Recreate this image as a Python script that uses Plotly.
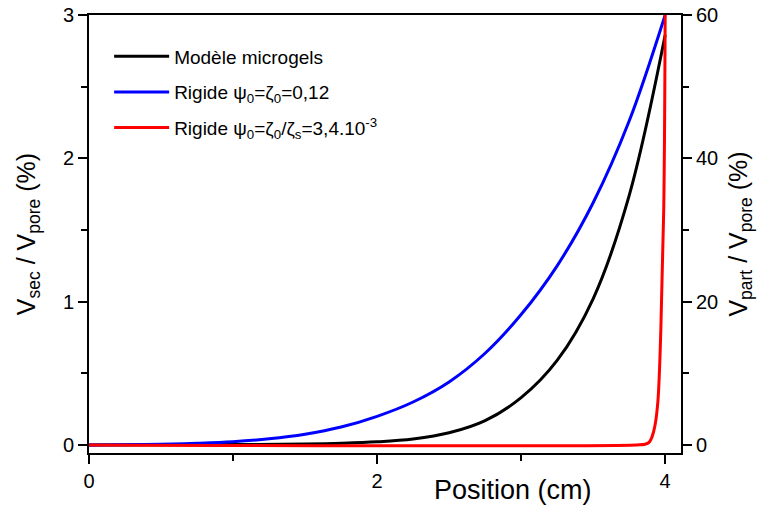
import plotly.graph_objects as go

# valeurs
x_micro = [0, 0.5, 1.0, 1.5, 1.75, 2.0, 2.25, 2.5, 2.75, 3.0, 3.25, 3.5, 3.75, 4.0]
y_micro = [0, 0.001, 0.003, 0.007, 0.012, 0.022, 0.042, 0.085, 0.17, 0.33, 0.59, 1.02, 1.74, 2.86]

x_rig1 = [0, 0.25, 0.5, 0.75, 1.0, 1.25, 1.5, 1.75, 2.0, 2.25, 2.5, 2.75, 3.0, 3.25, 3.5, 3.75, 4.0]
y_rig1 = [0, 0.002, 0.005, 0.012, 0.023, 0.043, 0.075, 0.125, 0.20, 0.30, 0.44, 0.64, 0.91, 1.25, 1.69, 2.26, 3.0]

x_rig2 = [0, 3.80, 3.86, 3.89, 3.91, 3.93, 3.95, 3.97, 3.99, 4.0]
y_rig2 = [0, 0, 0.005, 0.02, 0.06, 0.14, 0.31, 0.8, 1.64, 3.0]

names = ["Modèle microgels",
         "Rigide ψ<sub>0</sub>=ζ<sub>0</sub>=0,12",
         "Rigide ψ<sub>0</sub>=ζ<sub>0</sub>/ζ<sub>s</sub>=3,4.10<sup>-3</sup>"]
colors = ["black", "#0000ff", "#ff0000"]

FONT = "Arial, Liberation Sans, sans-serif"

fig = go.Figure()
for i, (xs, ys, nm, c) in enumerate(zip([x_micro, x_rig1, x_rig2], [y_micro, y_rig1, y_rig2], names, colors)):
    fig.add_trace(go.Scatter(x=xs, y=ys, mode="lines", name=nm, legendgroup=str(i),
                             line=dict(color=c, width=3, shape="spline", smoothing=1.0)))

# trace invisible pour activer l'axe de droite
fig.add_trace(go.Scatter(x=[0], y=[0], yaxis="y2", mode="markers",
                         marker=dict(opacity=0), showlegend=False, hoverinfo="skip"))

tick_common = dict(ticks="outside", ticklen=9, tickwidth=1.5, tickcolor="black",
                   showgrid=False, zeroline=False, showline=True, linecolor="black",
                   linewidth=2, automargin=False, ticklabeloverflow="allow",
                   tickfont=dict(size=20))

fig.update_layout(
    width=764, height=509,
    margin=dict(l=89, r=83, t=15, b=56),
    plot_bgcolor="white", paper_bgcolor="white",
    font=dict(family=FONT, size=19, color="black"),
    showlegend=True,
    legend=dict(x=0.034, y=0.949, xanchor="left", yanchor="top", itemwidth=55,
                bgcolor="rgba(0,0,0,0)", font=dict(size=19), tracegroupgap=8),
    xaxis=dict(range=[0, 4.11], dtick=2, tick0=0, mirror=True,
               minor=dict(dtick=1, ticks="outside", ticklen=6, tickwidth=1.5, tickcolor="black"),
               **tick_common),
    yaxis=dict(range=[-0.056, 3], dtick=1,
               minor=dict(dtick=0.5, ticks="outside", ticklen=6, tickwidth=1.5, tickcolor="black"),
               title=dict(text="V<sub>sec</sub> / V<sub>pore</sub> (%)", font=dict(size=25), standoff=20),
               **tick_common),
    yaxis2=dict(range=[-1.12, 60], dtick=20, overlaying="y", side="right",
                minor=dict(dtick=10, ticks="outside", ticklen=6, tickwidth=1.5, tickcolor="black"),
                title=dict(text="V<sub>part</sub> / V<sub>pore</sub> (%)", font=dict(size=25), standoff=12),
                **tick_common),
    annotations=[dict(text="Position (cm)", x=0.716, y=-0.085, xref="paper", yref="paper",
                      xanchor="center", yanchor="middle", showarrow=False,
                      font=dict(size=27))],
)

# pas de marge autour de la figure dans la page, pas de barre d'outils
fig.write_html("out.html", config={"displayModeBar": False},
               post_script="document.body.style.margin='0';")
